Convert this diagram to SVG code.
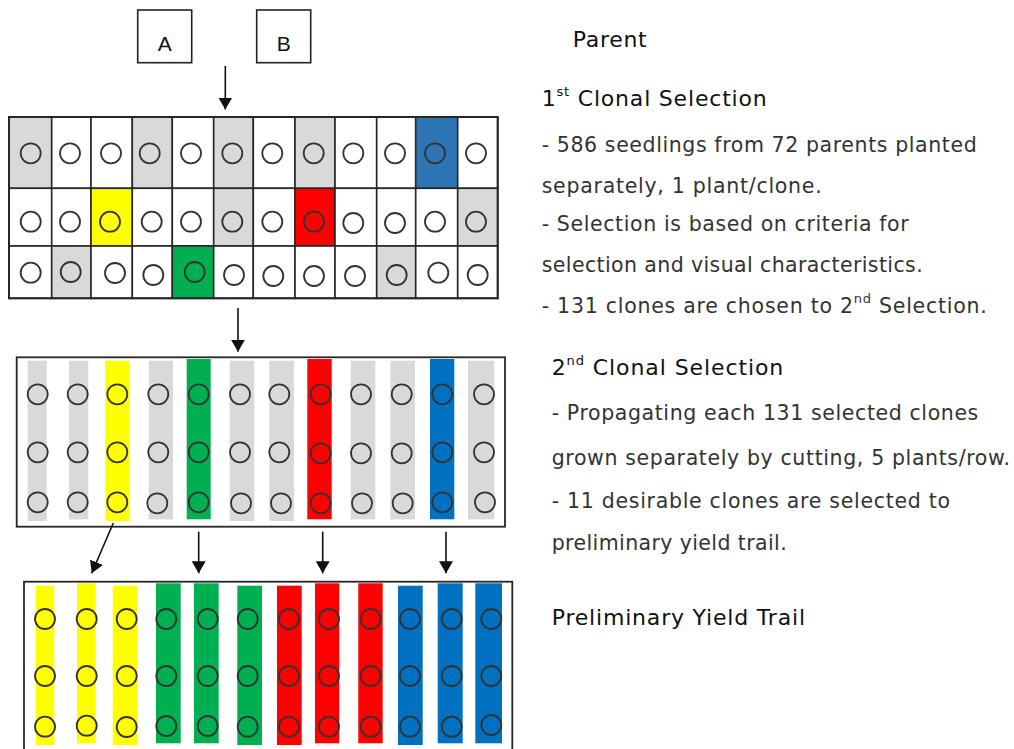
<svg xmlns="http://www.w3.org/2000/svg" width="1014" height="749" viewBox="0 0 1014 749">
<style>
.cell{stroke:#262626;stroke-width:1.6}
.w{fill:#ffffff}.g{fill:#d9d9d9}.y{fill:#ffff00}.gr{fill:#00b050}.r{fill:#ff0000}.b1{fill:#2e75b6}.b{fill:#0070c0}
.c{fill:none;stroke:#333;stroke-width:1.8}
.frame{fill:#fff;stroke:#262626;stroke-width:1.8}
.lbl{font-family:"Liberation Sans",Arial,sans-serif;font-size:21px;fill:#111}
.t{font-family:"DejaVu Sans","Open Sans",sans-serif;font-size:20.5px;fill:#333}
.h{font-family:"DejaVu Sans","Open Sans",sans-serif;font-size:22px;fill:#111}
.con{stroke:#111;stroke-width:1.6;fill:none;marker-end:url(#ah)}
</style>
<defs>
<marker id="ah" viewBox="0 0 12 14" refX="12" refY="7" markerWidth="12" markerHeight="14" markerUnits="userSpaceOnUse" orient="auto"><path d="M0,0 L12,7 L0,14 z" fill="#111"/></marker>
</defs>
<rect width="1014" height="749" fill="#fff"/>

<g id="parentA"><rect x="137.7" y="10" width="54" height="52.7" fill="#fff" stroke="#222" stroke-width="1.6"/><text class="lbl" x="164.7" y="51" text-anchor="middle">A</text></g>
<g id="parentB"><rect x="256.7" y="10" width="54" height="52.7" fill="#fff" stroke="#222" stroke-width="1.6"/><text class="lbl" x="283.7" y="51" text-anchor="middle">B</text></g>

<g id="grid1">
<rect class="cell g" x="9" y="117" width="42.7" height="71.3"/>
<rect class="cell w" x="51.7" y="117" width="39.3" height="71.3"/>
<rect class="cell w" x="91" y="117" width="41.3" height="71.3"/>
<rect class="cell g" x="132.3" y="117" width="40" height="71.3"/>
<rect class="cell w" x="172.3" y="117" width="41.4" height="71.3"/>
<rect class="cell g" x="213.7" y="117" width="39.6" height="71.3"/>
<rect class="cell w" x="253.3" y="117" width="41.7" height="71.3"/>
<rect class="cell g" x="295" y="117" width="40" height="71.3"/>
<rect class="cell w" x="335" y="117" width="41.7" height="71.3"/>
<rect class="cell w" x="376.7" y="117" width="39" height="71.3"/>
<rect class="cell b1" x="415.7" y="117" width="42" height="71.3"/>
<rect class="cell w" x="457.7" y="117" width="40" height="71.3"/>
<rect class="cell w" x="9" y="188.3" width="42.7" height="57.7"/>
<rect class="cell w" x="51.7" y="188.3" width="39.3" height="57.7"/>
<rect class="cell y" x="91" y="188.3" width="41.3" height="57.7"/>
<rect class="cell w" x="132.3" y="188.3" width="40" height="57.7"/>
<rect class="cell w" x="172.3" y="188.3" width="41.4" height="57.7"/>
<rect class="cell g" x="213.7" y="188.3" width="39.6" height="57.7"/>
<rect class="cell w" x="253.3" y="188.3" width="41.7" height="57.7"/>
<rect class="cell r" x="295" y="188.3" width="40" height="57.7"/>
<rect class="cell w" x="335" y="188.3" width="41.7" height="57.7"/>
<rect class="cell w" x="376.7" y="188.3" width="39" height="57.7"/>
<rect class="cell w" x="415.7" y="188.3" width="42" height="57.7"/>
<rect class="cell g" x="457.7" y="188.3" width="40" height="57.7"/>
<rect class="cell w" x="9" y="246" width="42.7" height="52.3"/>
<rect class="cell g" x="51.7" y="246" width="39.3" height="52.3"/>
<rect class="cell w" x="91" y="246" width="41.3" height="52.3"/>
<rect class="cell w" x="132.3" y="246" width="40" height="52.3"/>
<rect class="cell gr" x="172.3" y="246" width="41.4" height="52.3"/>
<rect class="cell w" x="213.7" y="246" width="39.6" height="52.3"/>
<rect class="cell w" x="253.3" y="246" width="41.7" height="52.3"/>
<rect class="cell w" x="295" y="246" width="40" height="52.3"/>
<rect class="cell w" x="335" y="246" width="41.7" height="52.3"/>
<rect class="cell g" x="376.7" y="246" width="39" height="52.3"/>
<rect class="cell w" x="415.7" y="246" width="42" height="52.3"/>
<rect class="cell w" x="457.7" y="246" width="40" height="52.3"/>
<rect x="9" y="117" width="488.7" height="181.3" fill="none" stroke="#262626" stroke-width="2"/>
<g>
<circle class="c" cx="30.7" cy="153.3" r="10"/><circle class="c" cx="70" cy="153.3" r="10"/><circle class="c" cx="111" cy="153.3" r="10"/><circle class="c" cx="149.7" cy="153.3" r="10"/><circle class="c" cx="191" cy="153.3" r="10"/><circle class="c" cx="232.3" cy="153.3" r="10"/><circle class="c" cx="272.3" cy="153.3" r="10"/><circle class="c" cx="313.7" cy="153.3" r="10"/><circle class="c" cx="353.3" cy="153.3" r="10"/><circle class="c" cx="395" cy="153.3" r="10"/><circle class="c" cx="435" cy="153.3" r="10"/><circle class="c" cx="476" cy="153.3" r="10"/>
<circle class="c" cx="30.7" cy="221.7" r="10"/><circle class="c" cx="70" cy="221.7" r="10"/><circle class="c" cx="110" cy="221.7" r="10"/><circle class="c" cx="151.7" cy="221.7" r="10"/><circle class="c" cx="191" cy="221.7" r="10"/><circle class="c" cx="232.3" cy="221.7" r="10"/><circle class="c" cx="272.3" cy="221.7" r="10"/><circle class="c" cx="314" cy="221.7" r="10"/><circle class="c" cx="353.3" cy="223" r="10"/><circle class="c" cx="395" cy="223" r="10"/><circle class="c" cx="435" cy="221.7" r="10"/><circle class="c" cx="476" cy="221.7" r="10"/>
<circle class="c" cx="30.7" cy="272.7" r="10"/><circle class="c" cx="70.7" cy="272" r="10"/><circle class="c" cx="115" cy="273" r="10"/><circle class="c" cx="153.3" cy="275" r="10"/><circle class="c" cx="194.7" cy="272" r="10"/><circle class="c" cx="234" cy="275" r="10"/><circle class="c" cx="273.3" cy="276" r="10"/><circle class="c" cx="314" cy="276" r="10"/><circle class="c" cx="355" cy="276" r="10"/><circle class="c" cx="396.7" cy="275" r="10"/><circle class="c" cx="438.3" cy="272.7" r="10"/><circle class="c" cx="477.7" cy="275" r="10"/>
</g>
</g>

<g id="grid2">
<rect class="frame" x="16.7" y="357.3" width="488.3" height="169.4"/>
<rect class="g" x="27.7" y="360.7" width="19" height="160.3"/>
<rect class="g" x="69" y="360.7" width="19.3" height="158.7"/>
<rect class="y" x="105.3" y="360.7" width="24.4" height="160.3"/>
<rect class="g" x="148.7" y="360.7" width="24.3" height="158.7"/>
<rect class="gr" x="186.7" y="359" width="24" height="160.3"/>
<rect class="g" x="229.7" y="360.7" width="24.6" height="160.3"/>
<rect class="g" x="269.3" y="360.7" width="24.7" height="160.3"/>
<rect class="r" x="307.3" y="359" width="24.4" height="160.3"/>
<rect class="g" x="350.7" y="360.7" width="24.6" height="158.7"/>
<rect class="g" x="390.3" y="360.7" width="24.7" height="158.7"/>
<rect class="b" x="430" y="359" width="24.3" height="160.3"/>
<rect class="g" x="468" y="360.7" width="26.3" height="158.7"/>
<g>
<circle class="c" cx="37.7" cy="394.3" r="10"/><circle class="c" cx="77.7" cy="394.3" r="10"/><circle class="c" cx="117.3" cy="394.3" r="10"/><circle class="c" cx="158.3" cy="394.3" r="10"/><circle class="c" cx="198.7" cy="394.3" r="10"/><circle class="c" cx="240" cy="394.3" r="10"/><circle class="c" cx="279.3" cy="394.3" r="10"/><circle class="c" cx="320.7" cy="394.3" r="10"/><circle class="c" cx="361" cy="394.3" r="10"/><circle class="c" cx="401.7" cy="394.3" r="10"/><circle class="c" cx="442.3" cy="394.3" r="10"/><circle class="c" cx="484" cy="394.3" r="10"/>
<circle class="c" cx="37.7" cy="452.3" r="10"/><circle class="c" cx="77.7" cy="452.3" r="10"/><circle class="c" cx="117.3" cy="452.3" r="10"/><circle class="c" cx="158.3" cy="452.3" r="10"/><circle class="c" cx="198.7" cy="452.3" r="10"/><circle class="c" cx="240" cy="452.3" r="10"/><circle class="c" cx="279.3" cy="452.3" r="10"/><circle class="c" cx="320.7" cy="453.3" r="10"/><circle class="c" cx="361" cy="453.3" r="10"/><circle class="c" cx="401.7" cy="453.3" r="10"/><circle class="c" cx="442.3" cy="452.3" r="10"/><circle class="c" cx="484" cy="452.3" r="10"/>
<circle class="c" cx="37.7" cy="502.3" r="10"/><circle class="c" cx="77.7" cy="502.3" r="10"/><circle class="c" cx="117.3" cy="502.3" r="10"/><circle class="c" cx="157.3" cy="503.3" r="10"/><circle class="c" cx="198.7" cy="502.3" r="10"/><circle class="c" cx="241" cy="503.3" r="10"/><circle class="c" cx="281" cy="503.3" r="10"/><circle class="c" cx="320.7" cy="503.3" r="10"/><circle class="c" cx="362" cy="503.3" r="10"/><circle class="c" cx="402.7" cy="503.3" r="10"/><circle class="c" cx="442.3" cy="502.3" r="10"/><circle class="c" cx="485" cy="502.3" r="10"/>
</g>
</g>

<g id="grid3">
<rect class="frame" x="24" y="581.7" width="488.3" height="172"/>
<rect class="y" x="35.7" y="585.7" width="18.6" height="159.3"/>
<rect class="y" x="77" y="583.3" width="18.7" height="160"/>
<rect class="y" x="112.7" y="585.7" width="24.6" height="159.3"/>
<rect class="gr" x="156" y="583.3" width="24.7" height="160"/>
<rect class="gr" x="194" y="583.3" width="24.7" height="160"/>
<rect class="gr" x="237.3" y="585.7" width="24.7" height="159.3"/>
<rect class="r" x="277" y="585.7" width="24.7" height="159.3"/>
<rect class="r" x="315" y="583.3" width="24.3" height="160"/>
<rect class="r" x="358.3" y="583.3" width="24.4" height="160"/>
<rect class="b" x="398" y="585.7" width="24.7" height="159.3"/>
<rect class="b" x="437.7" y="583.3" width="25" height="160"/>
<rect class="b" x="475.3" y="583.3" width="26.7" height="160"/>
<g>
<circle class="c" cx="45" cy="619" r="10"/><circle class="c" cx="86.7" cy="619" r="10"/><circle class="c" cx="126.7" cy="619" r="10"/><circle class="c" cx="166.3" cy="619" r="10"/><circle class="c" cx="207.7" cy="619" r="10"/><circle class="c" cx="247.7" cy="619" r="10"/><circle class="c" cx="289" cy="619" r="10"/><circle class="c" cx="329" cy="619" r="10"/><circle class="c" cx="370.7" cy="619" r="10"/><circle class="c" cx="410" cy="619" r="10"/><circle class="c" cx="451.7" cy="619" r="10"/><circle class="c" cx="491.3" cy="619" r="10"/>
<circle class="c" cx="45" cy="676" r="10"/><circle class="c" cx="86.7" cy="676" r="10"/><circle class="c" cx="126.7" cy="676" r="10"/><circle class="c" cx="166.3" cy="676" r="10"/><circle class="c" cx="207.7" cy="676" r="10"/><circle class="c" cx="247.7" cy="676" r="10"/><circle class="c" cx="289" cy="676" r="10"/><circle class="c" cx="329" cy="676" r="10"/><circle class="c" cx="370.7" cy="676" r="10"/><circle class="c" cx="410" cy="676" r="10"/><circle class="c" cx="451.7" cy="676" r="10"/><circle class="c" cx="491.3" cy="676" r="10"/>
<circle class="c" cx="45" cy="726.7" r="10"/><circle class="c" cx="86.7" cy="725.7" r="10"/><circle class="c" cx="126.7" cy="727" r="10"/><circle class="c" cx="166.3" cy="726" r="10"/><circle class="c" cx="207.7" cy="726" r="10"/><circle class="c" cx="247.7" cy="726.7" r="10"/><circle class="c" cx="289" cy="726.7" r="10"/><circle class="c" cx="329" cy="726.7" r="10"/><circle class="c" cx="370.7" cy="726.7" r="10"/><circle class="c" cx="410" cy="726.7" r="10"/><circle class="c" cx="451.7" cy="726.7" r="10"/><circle class="c" cx="491.3" cy="725" r="10"/>
</g>
</g>

<g id="connectors">
<line class="con" x1="225.3" y1="66" x2="225.3" y2="109.5"/>
<line class="con" x1="238" y1="308" x2="238" y2="351.7"/>
<line class="con" x1="113.3" y1="523" x2="91.7" y2="573.3"/>
<line class="con" x1="198.7" y1="531.7" x2="198.7" y2="573.3"/>
<line class="con" x1="322.7" y1="531.7" x2="322.7" y2="573.3"/>
<line class="con" x1="446" y1="531.7" x2="446" y2="573.3"/>
</g>

<g id="texts">
<text class="h" x="572.7" y="46.7" textLength="74">Parent</text>
<text class="h" x="541.7" y="106" textLength="225">1<tspan font-size="13" dy="-10">st</tspan><tspan dy="10"> Clonal Selection</tspan></text>
<text class="t" x="541.7" y="151.7" textLength="435">- 586 seedlings from 72 parents planted</text>
<text class="t" x="541.7" y="192.7" textLength="280">separately, 1 plant/clone.</text>
<text class="t" x="541.7" y="230.7" textLength="367">- Selection is based on criteria for</text>
<text class="t" x="541.7" y="271.7" textLength="381">selection and visual characteristics.</text>
<text class="t" x="541.7" y="313.3" textLength="445">- 131 clones are chosen to 2<tspan font-size="13" dy="-10">nd</tspan><tspan dy="10"> Selection.</tspan></text>
<text class="h" x="551.7" y="375" textLength="231.6">2<tspan font-size="13" dy="-10">nd</tspan><tspan dy="10"> Clonal Selection</tspan></text>
<text class="t" x="551.7" y="420" textLength="426.6">- Propagating each 131 selected clones</text>
<text class="t" x="551.7" y="465" textLength="458.3">grown separately by cutting, 5 plants/row.</text>
<text class="t" x="551.7" y="508.3" textLength="398.3">- 11 desirable clones are selected to</text>
<text class="t" x="551.7" y="550" textLength="235">preliminary yield trail.</text>
<text class="h" x="551.7" y="625" textLength="253.3">Preliminary Yield Trail</text>
</g>
</svg>
